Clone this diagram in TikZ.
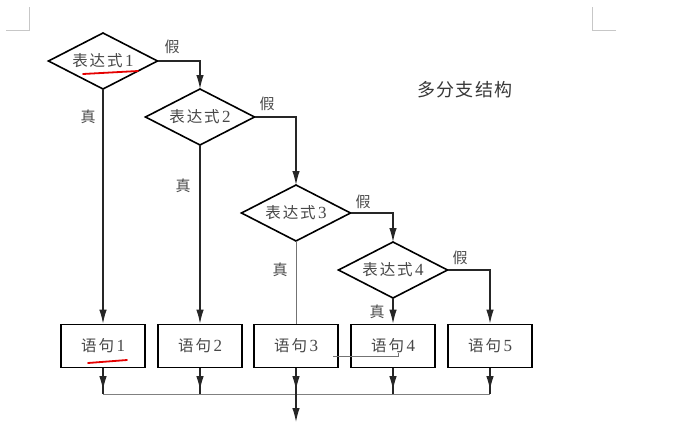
\documentclass[tikz,border=0pt]{standalone}
\usepackage{fontspec}
\setmainfont{Liberation Serif}
\newfontfamily\cjk{Noto Sans CJK SC}
\usetikzlibrary{shapes.geometric,arrows.meta,decorations.markings}
\newcommand\zh[1]{{\cjk #1}}
\newcommand\expr[1]{\zh{表\kern1.8pt 达\kern1.8pt 式}\kern2.5pt{\fontsize{17}{17}\selectfont #1}}
\newcommand\stm[1]{\zh{语\kern2pt 句}\kern2.5pt{\fontsize{17}{17}\selectfont #1}}
\begin{document}
\begin{tikzpicture}[x=1pt,y=-1pt,
  dec/.style={diamond,shape aspect=1.95,draw=black,line width=1.6pt,minimum width=109pt,minimum height=56pt,
    inner sep=0pt,outer sep=0pt,text=black!72,font=\fontsize{15.5}{17}\selectfont},
  stmt/.style={rectangle,draw=black,line width=1.6pt,minimum width=84pt,minimum height=43pt,
    inner sep=0pt,text=black!72,font=\fontsize{15.5}{17}\selectfont},
  lbl/.style={text=black!70,font=\fontsize{15}{16}\selectfont\cjk,inner sep=0pt},
  tip/.style={-{Latex[length=14pt,width=7.5pt]}},
  ln/.style={line width=1.3pt,draw=black!85},
  arr/.style={ln,tip},
  thinln/.style={line width=0.8pt,draw=black!55},
  midarr/.style={ln,postaction={decorate},decoration={markings,
    mark=at position 0.85 with {\arrow{Latex[length=14pt,width=7.5pt]}}}},
  corner/.style={line width=1pt,draw=black!22},
  redmark/.style={line width=1.8pt,draw=red!90!black,line cap=round}
]
\fill[white] (0,0) rectangle (696,442);
\useasboundingbox (0,0) rectangle (696,442);

% page corner marks
\draw[corner] (6,30) -- (29,30) -- (29,7);
\draw[corner] (616,30) -- (592,30) -- (592,7);

% title
\node[text=black!78,font=\fontsize{18}{20}\selectfont\cjk,inner sep=0pt] (title) at (465,90)
  {多\kern1.5pt 分\kern1.5pt 支\kern1.5pt 结\kern1.5pt 构};

% decisions
\node[dec] (d1) at (103,61) {\expr{1}};
\node[dec] (d2) at (200,117) {\expr{2}};
\node[dec] (d3) at (296,213) {\expr{3}};
\node[dec] (d4) at (393,270) {\expr{4}};

% statements
\node[stmt] (b1) at (103,346) {\stm{1}};
\node[stmt] (b2) at (200,346) {\stm{2}};
\node[stmt] (b3) at (296,346) {\stm{3}};
\node[stmt] (b4) at (393,346) {\stm{4}};
\node[stmt] (b5) at (490,346) {\stm{5}};

% merge points
\coordinate (m1) at (103,394);
\coordinate (m2) at (200,394);
\coordinate (m3) at (296,394);
\coordinate (m4) at (393,394);
\coordinate (m5) at (490,394);
\coordinate (out) at (296,422);

% branches
\draw[arr] (d1.east) -| (d2.north);
\draw[arr] (d2.east) -| (d3.north);
\draw[arr] (d3.east) -| (d4.north);
\draw[arr] (d4.east) -| (b5.north);
\draw[arr] (d1.south) -- (b1.north);
\draw[arr] (d2.south) -- (b2.north);
\draw[thinln] (d3.south) -- (b3.north);
\draw[arr] (d4.south) -- (b4.north);

% labels
\node[lbl] (f1) at (172,47) {假};
\node[lbl] (t1) at (88,117) {真};
\node[lbl] (f2) at (267,104) {假};
\node[lbl] (t2) at (183,186) {真};
\node[lbl] (f3) at (363,202) {假};
\node[lbl] (t3) at (280,270) {真};
\node[lbl] (f4) at (460,258) {假};
\node[lbl] (t4) at (377,312) {真};

% merge
\draw[midarr] (b1.south) -- (m1);
\draw[midarr] (b2.south) -- (m2);
\draw[midarr] (b3.south) -- (m3);
\draw[midarr] (b4.south) -- (m4);
\draw[midarr] (b5.south) -- (m5);
\draw[line width=1pt,draw=black!50] (m1) -- (m5);
\draw[arr] (m3) -- (out);

% annotations
\draw[redmark] (83,74) -- (138,71);
\draw[redmark] (88,363) -- (127,360);
\draw[line width=0.7pt,draw=black!55] (333,356) -- (398,356) -- (398,353);
\end{tikzpicture}
\end{document}
